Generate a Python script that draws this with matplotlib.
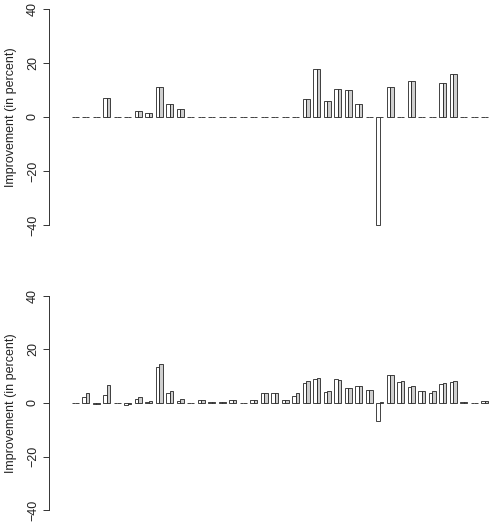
import numpy as np
import matplotlib
matplotlib.use("Agg")
import matplotlib.pyplot as plt

plt.rcParams['font.family'] = ['Liberation Sans', 'DejaVu Sans']

# Top panel values (white series, gray series), 40 groups
top_white = [0, 0, 0, 7.1, 0, 0, 2.2, 1.3, 11.2, 4.7, 3.0, 0, 0, 0, 0, 0, 0, 0, 0, 0,
             0, 0, 6.6, 17.6, 5.8, 10.5, 9.9, 4.7, 0, -40, 11.2, 0, 13.4, 0, 0, 12.5, 16.1, 0, 0, 0]
top_gray = [0, 0, 0, 7.1, 0, 0, 2.2, 1.3, 11.2, 4.7, 3.0, 0, 0, 0, 0, 0, 0, 0, 0, 0,
            0, 0, 6.6, 17.6, 5.8, 10.5, 9.9, 4.7, 0, 0, 11.2, 0, 13.4, 0, 0, 12.5, 16.1, 0, 0, 0]

# Bottom panel values
bot_white = [0, 2.1, -0.5, 3.1, 0, -0.8, 1.4, 0.5, 13.6, 3.7, 0.9, 0, 1.0, 0.5, 0.3, 1.0, 0, 1.3, 3.6, 3.7,
             1.0, 2.7, 7.6, 9.0, 4.2, 8.8, 5.7, 6.3, 4.9, -6.7, 10.5, 7.8, 6.0, 4.6, 3.7, 7.2, 7.8, 0.2, 0, 0.9]
bot_gray = [0, 3.6, -0.2, 6.7, 0, -0.4, 2.1, 0.9, 14.6, 4.5, 1.5, 0, 1.0, 0.5, 0.3, 1.0, 0, 1.3, 3.7, 3.7,
            1.0, 3.6, 8.1, 9.2, 4.6, 8.7, 5.7, 6.3, 4.8, 0.5, 10.5, 8.4, 6.2, 4.6, 4.4, 7.3, 8.2, 0.2, 0, 0.9]

yticks = [-40, -20, 0, 20, 40]
ylabel = "Improvement (in percent)"

W, H = 493, 522
fig = plt.figure(figsize=(W / 100, H / 100), dpi=100)

def px_axes(left, top, right, bottom):
    return fig.add_axes([left / W, 1 - bottom / H, (right - left) / W, (bottom - top) / H])

ax1 = px_axes(49.3, 0, 493, 234)
ax2 = px_axes(49.3, 287, 493, 519)

def draw(ax, white, gray, ylim):
    n = len(white)
    idx = np.arange(n)
    xw = 1 + 3 * idx
    xg = 2 + 3 * idx
    ax.bar(xw, white, width=1, align='edge', color='white', edgecolor='#222222', linewidth=0.6)
    ax.bar(xg, gray, width=1, align='edge', color='#CFCFCF', edgecolor='#222222', linewidth=0.6)
    ax.set_xlim(-5.4, 121.4)
    ax.set_ylim(*ylim)
    for s in ['top', 'right', 'bottom']:
        ax.spines[s].set_visible(False)
    ax.spines['left'].set_bounds(-40, 40)
    ax.spines['left'].set_linewidth(0.7)
    ax.spines['left'].set_color('#333333')
    ax.set_xticks([])
    ax.set_yticks(yticks)
    ax.set_yticklabels(['\u221240', '\u221220', '0', '20', '40'], rotation=90, va='center')
    ax.tick_params(axis='y', length=4.3, width=0.7, color='#333333', pad=3.2, labelsize=9,
                   labelcolor='#222222')
    ax.set_ylabel(ylabel, fontsize=9, color='#222222')
    ax.yaxis.set_label_coords(-0.072, 0.5)
    ax.patch.set_visible(False)

draw(ax1, top_white, top_gray, (-43.33, 43.33))
draw(ax2, bot_white, bot_gray, (-43.36, 43.36))

fig.savefig("out.png", dpi=100)
